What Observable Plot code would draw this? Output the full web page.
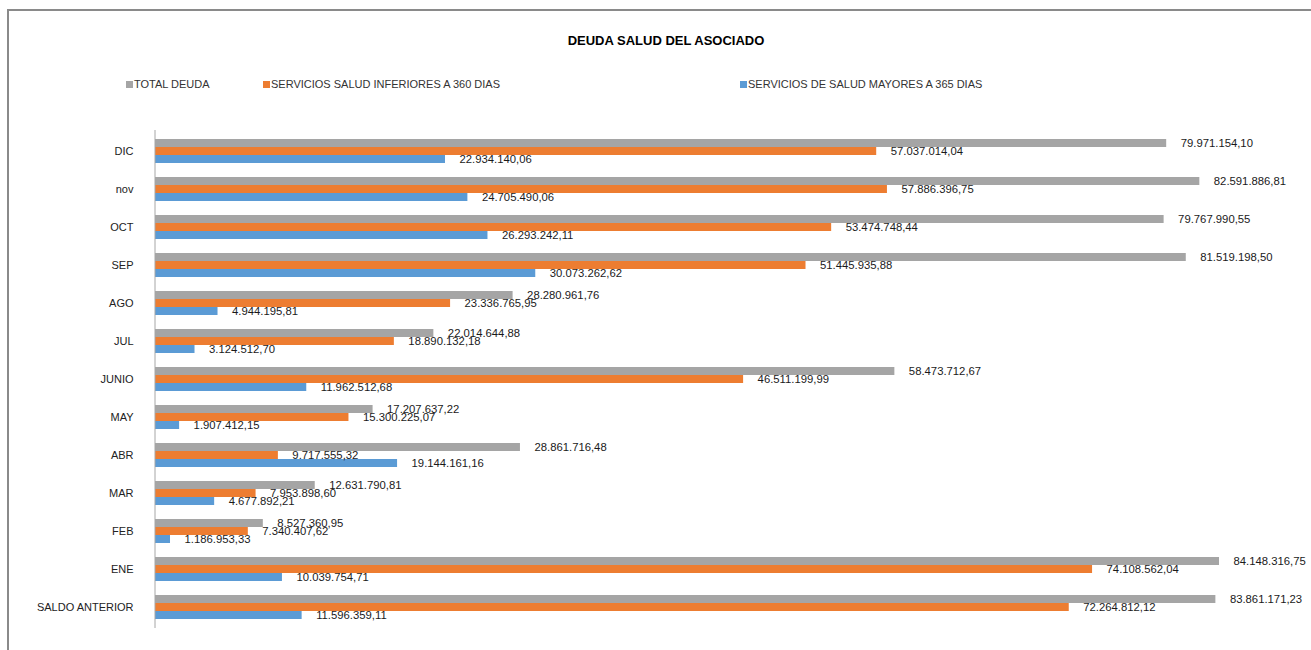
<!DOCTYPE html>
<html>
<head>
<meta charset="utf-8">
<script src="https://cdn.jsdelivr.net/npm/d3@7"></script>
<script src="https://cdn.jsdelivr.net/npm/@observablehq/plot@0.6"></script>
<style>
  html, body { margin: 0; padding: 0; background: #fff; overflow: hidden; }
  #wrap { position: relative; width: 1311px; height: 650px; overflow: hidden; font-family: "Liberation Sans", Arial, sans-serif; }
  #border { position: absolute; left: 7px; top: 9px; width: 1400px; height: 700px; border: 2px solid #8a8a8a; box-sizing: border-box; }
  #title { position: absolute; top: 33px; left: 7px; width: 1318px; text-align: center; font-weight: bold; font-size: 13px; color: #000; }
  .leg { position: absolute; top: 78px; font-size: 11px; color: #333; display: flex; align-items: center; white-space: nowrap; }
  .leg i { display: inline-block; width: 7px; height: 7px; margin-right: 1px; }
  #chart { position: absolute; left: 0; top: 0; }
</style>
</head>
<body>
<div id="wrap">
  <div id="border"></div>
  <div id="title">DEUDA SALUD DEL ASOCIADO</div>
  <div id="legend"></div>
  <div id="chart"></div>
</div>
<script>
const categories = ["DIC", "nov", "OCT", "SEP", "AGO", "JUL", "JUNIO", "MAY", "ABR", "MAR", "FEB", "ENE", "SALDO ANTERIOR"];
const series = ["TOTAL DEUDA", "SERVICIOS SALUD INFERIORES A 360 DIAS", "SERVICIOS DE SALUD MAYORES A 365 DIAS"];
const colors = ["#A5A5A5", "#ED7D31", "#5B9BD5"];
const totalDeuda = [79971154.10, 82591886.81, 79767990.55, 81519198.50, 28280961.76, 22014644.88, 58473712.67, 17207637.22, 28861716.48, 12631790.81, 8527360.95, 84148316.75, 83861171.23];
const inferiores360 = [57037014.04, 57886396.75, 53474748.44, 51445935.88, 23336765.95, 18890132.18, 46511199.99, 15300225.07, 9717555.32, 7953898.60, 7340407.62, 74108562.04, 72264812.12];
const mayores365 = [22934140.06, 24705490.06, 26293242.11, 30073262.62, 4944195.81, 3124512.70, 11962512.68, 1907412.15, 19144161.16, 4677892.21, 1186953.33, 10039754.71, 11596359.11];
const legendLeft = [126, 263, 740];

const seriesValues = [totalDeuda, inferiores360, mayores365];
const data = [];
categories.forEach((c, i) => {
  series.forEach((s, j) => data.push({cat: c, serie: s, value: seriesValues[j][i]}));
});

const locale = d3.formatLocale({decimal: ",", thousands: ".", grouping: [3], currency: ["", ""]});
const fmt = locale.format(",.2f");

// legend
const leg = document.getElementById("legend");
series.forEach((s, j) => {
  const el = document.createElement("div");
  el.className = "leg";
  el.style.left = legendLeft[j] + "px";
  el.innerHTML = `<i style="background:${colors[j]}"></i><span>${s}</span>`;
  leg.appendChild(el);
});

const plot = Plot.plot({
  width: 1311,
  height: 650,
  marginLeft: 155,
  marginRight: 18,
  marginTop: 130,
  marginBottom: 22,
  style: {fontFamily: "'Liberation Sans', Arial, sans-serif", fontSize: "11px", background: "transparent", overflow: "visible"},
  x: {domain: [0, 90000000], axis: null},
  y: {domain: series, padding: 0, axis: null},
  fy: {domain: categories, paddingInner: 0.33, paddingOuter: 0.165, label: null},
  color: {domain: series, range: colors},
  marks: [
    Plot.barX(data, {x: "value", y: "serie", fy: "cat", fill: "serie"}),
    Plot.text(data, {x: "value", y: "serie", fy: "cat", text: d => fmt(d.value), dx: 14, textAnchor: "start", fill: "#1a1a1a", fontSize: 11.3}),
    Plot.axisFy({anchor: "left", tickSize: 0, tickPadding: 22, label: null, fontSize: 11, color: "#222"})
  ]
});

const xs = plot.scale("x");
const x0 = xs.apply(0);
d3.select(plot).append("line")
  .attr("x1", x0).attr("x2", x0)
  .attr("y1", 130).attr("y2", 650 - 22)
  .attr("stroke", "#a6a6a6").attr("stroke-width", 1);

document.getElementById("chart").appendChild(plot);
</script>
</body>
</html>
